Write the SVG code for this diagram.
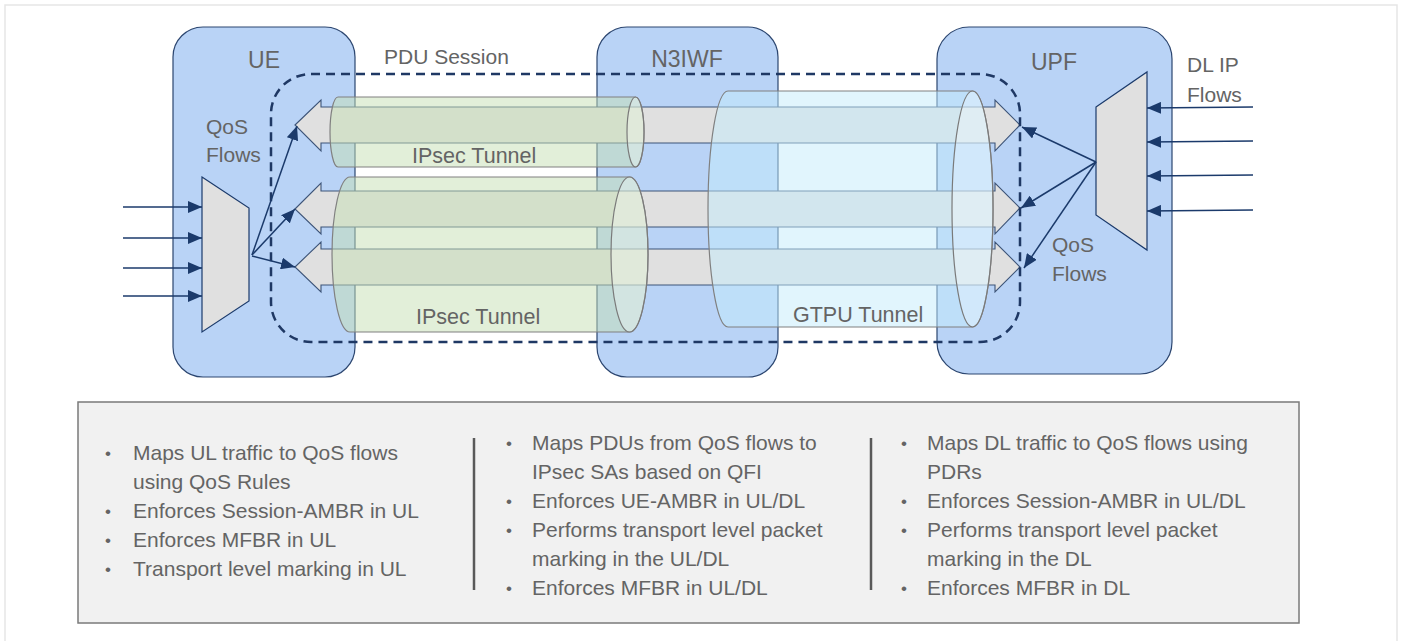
<svg xmlns="http://www.w3.org/2000/svg" width="1401" height="641" viewBox="0 0 1401 641">
  <defs>
    <style>
      .box { fill: #b9d3f6; stroke: #2c4670; stroke-width: 1.2; }
      .mux { fill: #e0e0e0; stroke: #1b3a6b; stroke-width: 1.2; }
      .flow { fill: #e0e0e0; stroke: #3d5478; stroke-width: 1.1; }
      .ipsec { fill: #c5e0b4; fill-opacity: 0.5; stroke: #808080; stroke-width: 1.2; }
      .gtpu { fill: #c3ebfb; fill-opacity: 0.5; stroke: #808080; stroke-width: 1.2; }
      .cap { fill: #ffffff; fill-opacity: 0.3; stroke: #7a7a7a; stroke-width: 1.2; }
      .conn { stroke: #1b3a6b; stroke-width: 1.5; fill: none; marker-end: url(#head); }
      .session { fill: none; stroke: #1f3864; stroke-width: 2.5; stroke-dasharray: 9 6; }
      .lbl { font-family: "Liberation Sans", Arial, sans-serif; fill: #646464; font-size: 21px; }
      .tun { font-size: 21.5px; }
      .title { font-size: 23px; text-anchor: middle; }
      .bul { font-family: "Liberation Sans", Arial, sans-serif; fill: #646464; font-size: 21px; }
      .dot { font-size: 17px; }
      .div { stroke: #595959; stroke-width: 2.5; }
    </style>
    <marker id="head" viewBox="0 0 14 12" refX="14" refY="6" markerWidth="14" markerHeight="12" markerUnits="userSpaceOnUse" orient="auto">
      <path d="M0,0 L14,6 L0,12 Z" fill="#1b3a6b"/>
    </marker>
  </defs>

  <!-- page frame -->
  <rect x="5" y="5" width="1392" height="660" fill="#ffffff" stroke="#e6e6e6" stroke-width="1.5"/>

  <!-- network functions -->
  <g id="ue">
    <rect class="box" x="173" y="27" width="182" height="350" rx="30"/>
    <text class="lbl title" x="264" y="68">UE</text>
    <text class="lbl" x="206" y="134">QoS</text>
    <text class="lbl" x="206" y="162">Flows</text>
    <polygon class="mux" points="202,177 249,208 249,301 202,332"/>
  </g>
  <g id="n3iwf">
    <rect class="box" x="597" y="27" width="181" height="350" rx="30"/>
    <text class="lbl title" x="687" y="67">N3IWF</text>
  </g>
  <g id="upf">
    <rect class="box" x="937" y="27" width="235" height="347" rx="32"/>
    <text class="lbl title" x="1054" y="70">UPF</text>
    <polygon class="mux" points="1096,107 1147,72 1147,250 1096,215"/>
    <text class="lbl" x="1052" y="252">QoS</text>
    <text class="lbl" x="1052" y="281">Flows</text>
  </g>
  <g id="dl-ip-flows-label">
    <text class="lbl" x="1187" y="72">DL IP</text>
    <text class="lbl" x="1187" y="102">Flows</text>
  </g>

  <!-- QoS flows carried end to end -->
  <g id="qos-flows">
    <path class="flow" d="M295,125 L321,100 L321,107 L995,107 L995,100 L1020,125 L995,151 L995,143 L321,143 L321,151 Z"/>
    <path class="flow" d="M295,209 L321,183 L321,191 L995,191 L995,183 L1020,208 L995,234 L995,227 L321,227 L321,234 Z"/>
    <path class="flow" d="M295,267 L321,242 L321,249 L995,249 L995,242 L1020,267 L995,292 L995,285 L321,285 L321,292 Z"/>
  </g>

  <!-- tunnels -->
  <g id="ipsec-tunnel-1">
    <path class="ipsec" d="M338,97 L635.5,97 A8.5,35 0 0 1 635.5,167 L338,167 A8,35 0 0 1 338,97 Z"/>
    <ellipse class="cap" cx="635.5" cy="132" rx="8.5" ry="35"/>
    <text class="lbl tun" x="412" y="163">IPsec Tunnel</text>
  </g>
  <g id="ipsec-tunnel-2">
    <path class="ipsec" d="M350,177 L629.5,177 A18.5,77.5 0 0 1 629.5,332 L350,332 A18,77.5 0 0 1 350,177 Z"/>
    <ellipse class="cap" cx="629.5" cy="254.5" rx="18.5" ry="77.5"/>
    <text class="lbl tun" x="416" y="324">IPsec Tunnel</text>
  </g>
  <g id="gtpu-tunnel">
    <path class="gtpu" d="M728,91 L972.5,91 A20.5,118 0 0 1 972.5,327 L728,327 A20,118 0 0 1 728,91 Z"/>
    <ellipse class="cap" cx="972.5" cy="209" rx="20.5" ry="118"/>
    <text class="lbl tun" x="793" y="322">GTPU Tunnel</text>
  </g>

  <!-- PDU session boundary -->
  <g id="pdu-session">
    <rect class="session" x="271" y="74" width="749" height="268" rx="40"/>
    <text class="lbl" x="384" y="64">PDU Session</text>
  </g>

  <!-- connectors -->
  <g id="connectors">
    <line class="conn" x1="123" y1="207" x2="202" y2="207"/>
    <line class="conn" x1="123" y1="238" x2="202" y2="238"/>
    <line class="conn" x1="123" y1="268" x2="202" y2="268"/>
    <line class="conn" x1="123" y1="296" x2="202" y2="296"/>
    <line class="conn" x1="252" y1="255" x2="297" y2="126"/>
    <line class="conn" x1="252" y1="255" x2="295" y2="209"/>
    <line class="conn" x1="252" y1="256" x2="295" y2="267"/>
    <line class="conn" x1="1096" y1="162" x2="1022" y2="127"/>
    <line class="conn" x1="1096" y1="162" x2="1021" y2="208"/>
    <line class="conn" x1="1096" y1="162" x2="1024" y2="268"/>
    <line class="conn" x1="1253" y1="107" x2="1147" y2="108"/>
    <line class="conn" x1="1253" y1="141" x2="1147" y2="142"/>
    <line class="conn" x1="1253" y1="175" x2="1147" y2="176"/>
    <line class="conn" x1="1253" y1="210" x2="1147" y2="211"/>
  </g>

  <!-- functions summary -->
  <g id="summary">
    <rect x="78" y="402" width="1221" height="221" fill="#f1f1f1" stroke="#7a7a7a" stroke-width="1.5"/>
    <line class="div" x1="474" y1="438" x2="474" y2="590"/>
    <line class="div" x1="871" y1="438" x2="871" y2="590"/>
    <g class="bul">
      <text class="dot" x="105" y="459">•</text><text x="133" y="460">Maps UL traffic to QoS flows</text>
      <text x="133" y="489">using QoS Rules</text>
      <text class="dot" x="105" y="517">•</text><text x="133" y="518">Enforces Session-AMBR in UL</text>
      <text class="dot" x="105" y="546">•</text><text x="133" y="547">Enforces MFBR in UL</text>
      <text class="dot" x="105" y="575">•</text><text x="133" y="576">Transport level marking in UL</text>

      <text class="dot" x="506" y="449">•</text><text x="532" y="450">Maps PDUs from QoS flows to</text>
      <text x="532" y="479">IPsec SAs based on QFI</text>
      <text class="dot" x="506" y="507">•</text><text x="532" y="508">Enforces UE-AMBR in UL/DL</text>
      <text class="dot" x="506" y="536">•</text><text x="532" y="537">Performs transport level packet</text>
      <text x="532" y="566">marking in the UL/DL</text>
      <text class="dot" x="506" y="594">•</text><text x="532" y="595">Enforces MFBR in UL/DL</text>

      <text class="dot" x="901" y="449">•</text><text x="927" y="450">Maps DL traffic to QoS flows using</text>
      <text x="927" y="479">PDRs</text>
      <text class="dot" x="901" y="507">•</text><text x="927" y="508">Enforces Session-AMBR in UL/DL</text>
      <text class="dot" x="901" y="536">•</text><text x="927" y="537">Performs transport level packet</text>
      <text x="927" y="566">marking in the DL</text>
      <text class="dot" x="901" y="594">•</text><text x="927" y="595">Enforces MFBR in DL</text>
    </g>
  </g>
</svg>
